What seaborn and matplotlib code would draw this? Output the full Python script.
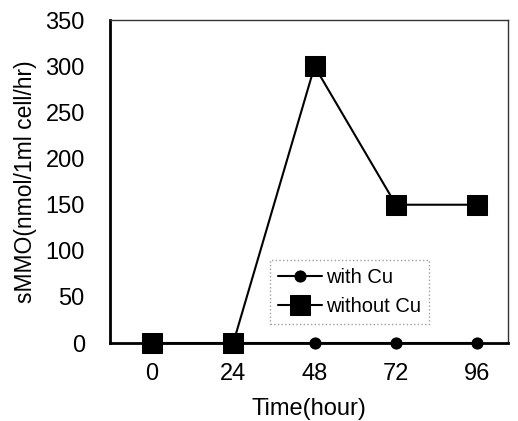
import matplotlib
matplotlib.use("Agg")
import matplotlib.pyplot as plt
import seaborn as sns
import pandas as pd

times = ["0", "24", "48", "72", "96"]
with_cu = [0, 0, 0, 0, 0]
without_cu = [0, 0, 300, 150, 150]

sns.set_style("white")
plt.rcParams['font.family'] = ['Liberation Sans', 'DejaVu Sans']
plt.rcParams['text.color'] = 'black'
plt.rcParams['axes.labelcolor'] = 'black'
plt.rcParams['xtick.color'] = 'black'
plt.rcParams['ytick.color'] = 'black'

fig = plt.figure(figsize=(5.18, 4.21), dpi=100)
ax = fig.add_axes([0.212, 0.185, 0.769, 0.767])

df_w = pd.DataFrame({"Time": times, "sMMO": with_cu})
df_wo = pd.DataFrame({"Time": times, "sMMO": without_cu})

sns.lineplot(data=df_w, x="Time", y="sMMO", ax=ax, color="black", marker="o",
             markersize=8, linewidth=1.5, label="with Cu", clip_on=False, zorder=3,
             markeredgecolor="black", sort=False)
sns.lineplot(data=df_wo, x="Time", y="sMMO", ax=ax, color="black", marker="s",
             markersize=14, linewidth=1.5, label="without Cu", clip_on=False, zorder=4,
             markeredgecolor="black", sort=False)

ax.set_xlim(-0.517, 4.38)
ax.set_ylim(0, 350)
ax.set_yticks(range(0, 351, 50))
ax.tick_params(axis="y", labelsize=17, length=3, color="#999999", direction="in", pad=18,
               labelcolor="black")
ax.tick_params(axis="x", labelsize=17, length=0, pad=14, labelcolor="black")
ax.set_xticks([0.5, 1.5, 2.5, 3.5], minor=True)
ax.tick_params(axis="x", which="minor", direction="in", length=5, color="#777777")

for s in ["left", "bottom"]:
    ax.spines[s].set_linewidth(2)
    ax.spines[s].set_color("black")
for s in ["top", "right"]:
    ax.spines[s].set_linewidth(1)
    ax.spines[s].set_color("#333333")

ax.set_xlabel("Time(hour)", fontsize=17, labelpad=10, color="black")
ax.set_ylabel("sMMO(nmol/1ml cell/hr)", fontsize=16.5, labelpad=6, color="black")

leg = ax.legend(loc="upper left", bbox_to_anchor=(0.402, 0.257), borderaxespad=0,
                fontsize=14.5, frameon=True, fancybox=False, handlelength=2.2,
                handletextpad=0.2, borderpad=0.4, labelspacing=0.5)
leg.get_frame().set_edgecolor("#888888")
leg.get_frame().set_linestyle(":")
leg.get_frame().set_linewidth(1)
for t in leg.get_texts():
    t.set_color("black")

fig.savefig("out.png", dpi=100)
